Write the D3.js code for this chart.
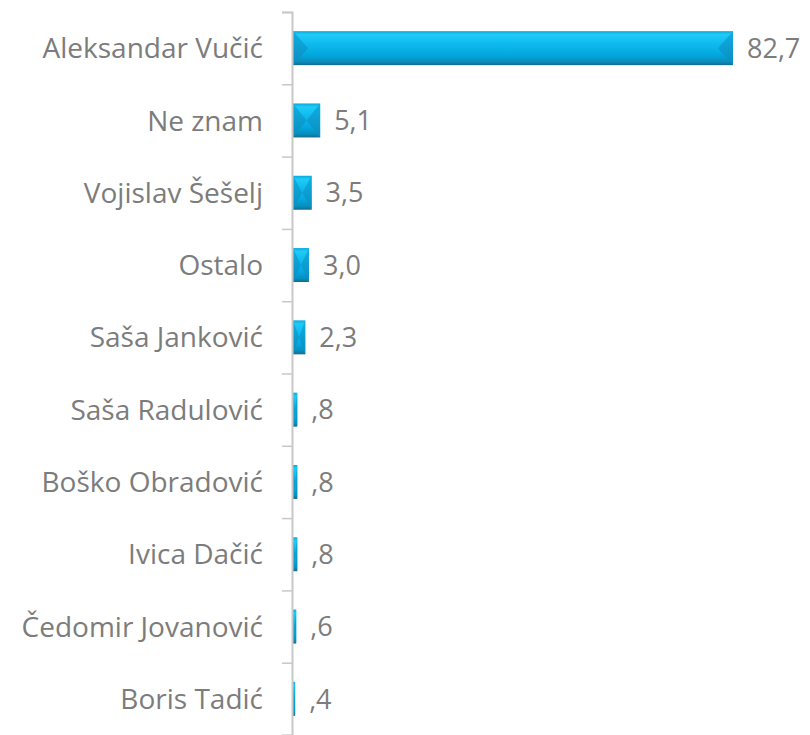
<!DOCTYPE html>
<html>
<head>
<meta charset="utf-8">
<script src="https://cdn.jsdelivr.net/npm/d3@7"></script>
<style>
  body { margin: 0; background: #fff; }
  text { font-family: 'Open Sans', sans-serif; fill: #7c7c7c; }
</style>
</head>
<body>
<script>
// DATA
const names = ['Aleksandar Vučić', 'Ne znam', 'Vojislav Šešelj', 'Ostalo', 'Saša Janković',
  'Saša Radulović', 'Boško Obradović', 'Ivica Dačić', 'Čedomir Jovanović', 'Boris Tadić'];
const values = [82.7, 5.1, 3.5, 3.0, 2.3, 0.8, 0.8, 0.8, 0.6, 0.4];

// CONFIGURATION
const width = 810;
const height = 735;
const plotLeft = 293;
const plotTop = 12;
const plotBottom = 735;
const fmt = function(v) {
  return v.toFixed(1).replace('.', ',').replace(/^0/, '');
};

const xScale = d3.scaleLinear()
  .domain([0, 82.7])
  .range([plotLeft, 733]);
const yScale = d3.scaleBand()
  .domain(names)
  .range([plotTop, plotBottom])
  .paddingInner(0.53)
  .paddingOuter(0.265);

const svg = d3.select('body')
  .append('svg')
  .attr('width', width)
  .attr('height', height);

// GRADIENTS
const defs = svg.append('defs');
const face = defs.append('linearGradient')
  .attr('id', 'face')
  .attr('x1', 0).attr('y1', 0).attr('x2', 0).attr('y2', 1);
face.append('stop').attr('offset', '0%').attr('stop-color', '#0aa8dc');
face.append('stop').attr('offset', '10%').attr('stop-color', '#1fcbf7');
face.append('stop').attr('offset', '35%').attr('stop-color', '#10bbf0');
face.append('stop').attr('offset', '70%').attr('stop-color', '#02a7de');
face.append('stop').attr('offset', '90%').attr('stop-color', '#098dbd');
face.append('stop').attr('offset', '100%').attr('stop-color', '#166a8c');
const side = defs.append('linearGradient')
  .attr('id', 'side')
  .attr('x1', 0).attr('y1', 0).attr('x2', 0).attr('y2', 1);
side.append('stop').attr('offset', '0%').attr('stop-color', '#10aee2');
side.append('stop').attr('offset', '100%').attr('stop-color', '#0a8cbe');

// BARS
const bars = svg.selectAll('g.bar')
  .data(names)
  .enter()
  .append('g')
  .attr('class', 'bar');

bars.append('rect')
  .attr('x', xScale(0))
  .attr('y', function(d) { return yScale(d); })
  .attr('width', function(d, i) { return Math.max(1.5, xScale(values[i]) - xScale(0)); })
  .attr('height', yScale.bandwidth())
  .attr('fill', 'url(#face)');

// bevel ends
bars.append('path')
  .attr('fill', 'url(#side)')
  .attr('d', function(d, i) {
    const x0 = xScale(0), x1 = xScale(values[i]);
    const y0 = yScale(d), y1 = y0 + yScale.bandwidth(), ym = (y0 + y1) / 2;
    const b = Math.min(15, (x1 - x0) / 2);
    return `M${x0},${y0}L${x0 + b},${ym}L${x0},${y1}Z` +
      `M${x1},${y0}L${x1 - b},${ym}L${x1},${y1}Z`;
  });

// VALUE LABELS
svg.selectAll('text.value')
  .data(names)
  .enter()
  .append('text')
  .attr('class', 'value')
  .attr('x', function(d, i) { return xScale(values[i]) + 14; })
  .attr('y', function(d) { return yScale(d) + yScale.bandwidth() / 2; })
  .attr('dy', '0.36em')
  .style('font-size', '27px')
  .text(function(d, i) { return fmt(values[i]); });

// AXIS
const yAxis = d3.axisLeft(d3.scaleLinear().domain([0, names.length]).range([plotTop, plotBottom]))
  .ticks(names.length)
  .tickSize(10)
  .tickFormat('');
svg.append('g')
  .attr('transform', `translate(${plotLeft - 1}, 0)`)
  .call(yAxis)
  .call(function(g) {
    g.select('.domain').attr('stroke', '#c8c8c8').attr('stroke-width', 2);
    g.selectAll('.tick line').attr('stroke', '#c8c8c8').attr('stroke-width', 1.5);
  });

// CATEGORY LABELS
svg.selectAll('text.name')
  .data(names)
  .enter()
  .append('text')
  .attr('class', 'name')
  .attr('x', 263)
  .attr('y', function(d) { return yScale(d) + yScale.bandwidth() / 2; })
  .attr('dy', '0.36em')
  .attr('text-anchor', 'end')
  .style('font-size', '28px')
  .text(function(d) { return d; });
</script>
</body>
</html>
